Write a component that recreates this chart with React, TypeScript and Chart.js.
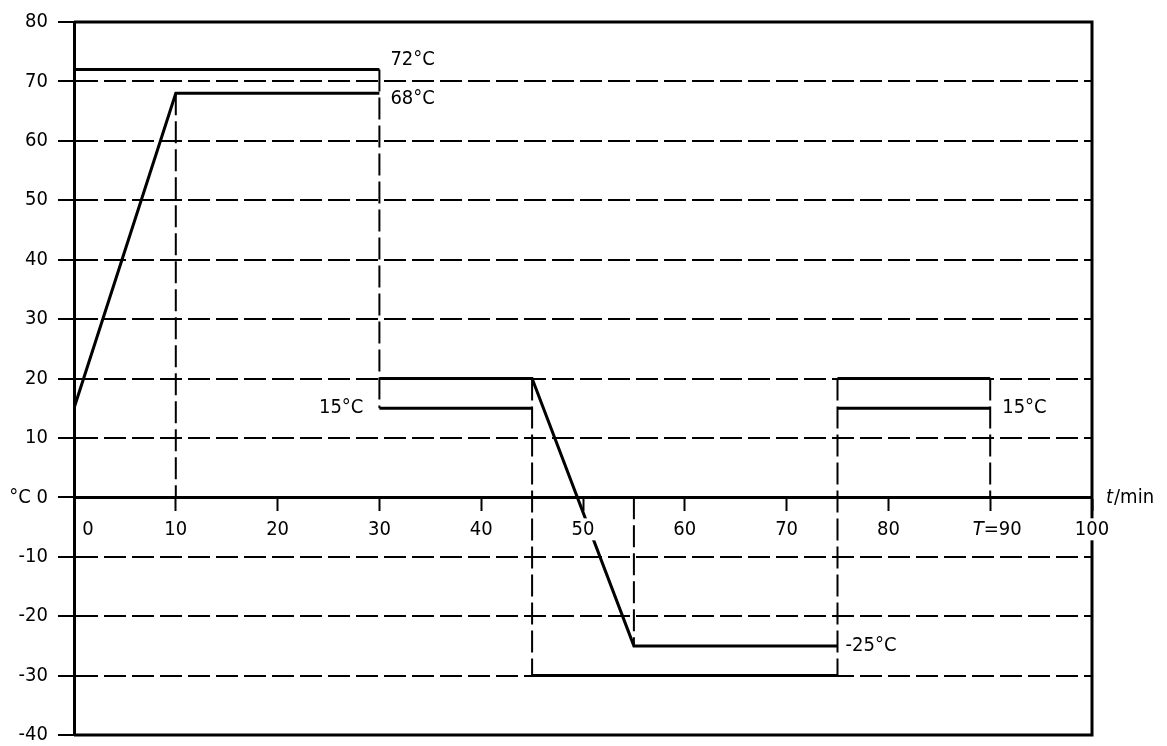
import React, { useEffect, useRef } from "react";
import { Chart, registerables } from "chart.js";

Chart.register(...registerables);

// ---- data (time in minutes, temperature in °C) ----
const heatProfileT = [0, 10, 30];
const heatProfileC = [15, 68, 68];
const hotLimitT = [0, 30];
const hotLimitC = [72, 72];
const coolUpperT = [30, 45, 55, 75];
const coolUpperC = [20, 20, -25, -25];
const midLowerT = [30, 45];
const midLowerC = [15, 15];
const coldLimitT = [45, 75];
const coldLimitC = [-30, -30];
const finalUpperT = [75, 90];
const finalUpperC = [20, 20];
const finalLowerT = [75, 90];
const finalLowerC = [15, 15];

const markerT = [10, 30, 45, 55, 75, 90];
const markerTop = [68, 72, 20, 0, 20, 20];
const markerBottom = [0, 15, -30, -25, -30, 0];

const xTickValues = [0, 10, 20, 30, 40, 50, 60, 70, 80, 90, 100];
const xTickLabels = ["0", "10", "20", "30", "40", "50", "60", "70", "80", "T=90", "100"];
const yMin = -40;
const yMax = 80;
const yStep = 10;

const noteTexts = ["72°C", "68°C", "15°C", "15°C", "-25°C"];
const noteT = [30, 30, 30, 90, 75];
const noteC = [72, 68, 15, 15, -25];

// ---- styles ----
const FONT_FAMILY = "'DejaVu Sans Condensed', 'Liberation Sans Narrow', 'DejaVu Sans', sans-serif";
const FONT_SIZE = 20;
const DASH = [22, 6];
const noteStyle = [
  { dx: 11, dy: -10, align: "left" },
  { dx: 11, dy: 5, align: "left" },
  { dx: -16, dy: 0, align: "right" },
  { dx: 12, dy: 0, align: "left" },
  { dx: 8, dy: 0, align: "left" },
];
const xLabelShift = [14, 0, 0, 0, 0, 0, 0, 0, 0, 7, 0];

const pts = (ts: number[], cs: number[]) => ts.map((t, i) => ({ x: t, y: cs[i] }));

const overlayPlugin = {
  id: "overlay",
  afterDatasetsDraw(chart: any) {
    const { ctx, chartArea, scales } = chart;
    const x = scales.x;
    const y = scales.y;
    ctx.save();
    // frame (top, right, bottom)
    ctx.strokeStyle = "#000";
    ctx.lineWidth = 3;
    ctx.setLineDash([]);
    ctx.beginPath();
    ctx.moveTo(chartArea.left, chartArea.top);
    ctx.lineTo(chartArea.right, chartArea.top);
    ctx.lineTo(chartArea.right, chartArea.bottom);
    ctx.lineTo(chartArea.left, chartArea.bottom);
    ctx.stroke();

    const font = `${FONT_SIZE}px ${FONT_FAMILY}`;
    const italic = `italic ${FONT_SIZE}px ${FONT_FAMILY}`;
    ctx.textBaseline = "middle";
    const y0 = y.getPixelForValue(0);

    // x tick labels with white backdrop
    xTickValues.forEach((v, i) => {
      const label = xTickLabels[i];
      const cx = x.getPixelForValue(v) + xLabelShift[i];
      const cy = y0 + 32;
      let parts: { text: string; font: string }[];
      if (label.startsWith("T=")) {
        parts = [
          { text: "T", font: italic },
          { text: label.slice(1), font },
        ];
      } else {
        parts = [{ text: label, font }];
      }
      let total = 0;
      const widths = parts.map((p) => {
        ctx.font = p.font;
        const w = ctx.measureText(p.text).width;
        total += w;
        return w;
      });
      ctx.fillStyle = "#fff";
      ctx.fillRect(cx - total / 2 - 3, cy - 11, total + 6, 22);
      ctx.fillStyle = "#000";
      ctx.textAlign = "left";
      let sx = cx - total / 2;
      parts.forEach((p, k) => {
        ctx.font = p.font;
        ctx.fillText(p.text, sx, cy);
        sx += widths[k];
      });
    });

    // annotations
    ctx.font = font;
    ctx.fillStyle = "#000";
    noteTexts.forEach((t, i) => {
      const st = noteStyle[i];
      ctx.textAlign = st.align as CanvasTextAlign;
      ctx.fillText(t, x.getPixelForValue(noteT[i]) + st.dx, y.getPixelForValue(noteC[i]) + st.dy);
    });

    // y unit
    ctx.textAlign = "center";
    ctx.fillText("°C", 20, y0);

    // x unit: t/min
    ctx.textAlign = "left";
    ctx.font = italic;
    const tx = chartArea.right + 14;
    ctx.fillText("t", tx, y0);
    const tw = ctx.measureText("t").width;
    ctx.font = font;
    ctx.fillText("/min", tx + tw + 1, y0);
    ctx.restore();
  },
};

export default function App() {
  const ref = useRef<HTMLCanvasElement | null>(null);
  useEffect(() => {
    if (!ref.current) return;
    const solid = (data: any[]) => ({
      data,
      borderColor: "#000",
      borderWidth: 3,
      pointRadius: 0,
      showLine: true,
      fill: false,
      borderJoinStyle: "miter",
      borderCapStyle: "butt",
      tension: 0,
    });
    const markers = markerT.map((t, i) => ({
      data: [
        { x: t, y: markerTop[i] },
        { x: t, y: markerBottom[i] },
      ],
      borderColor: "#000",
      borderWidth: 2,
      borderDash: DASH,
      pointRadius: 0,
      showLine: true,
      fill: false,
    }));
    const datasets: any[] = [
      ...markers,
      solid(pts(hotLimitT, hotLimitC)),
      solid(pts(heatProfileT, heatProfileC)),
      solid(pts(coolUpperT, coolUpperC)),
      solid(pts(midLowerT, midLowerC)),
      solid(pts(coldLimitT, coldLimitC)),
      solid(pts(finalUpperT, finalUpperC)),
      solid(pts(finalLowerT, finalLowerC)),
    ];
    const chart = new Chart(ref.current, {
      type: "scatter",
      data: { datasets },
      plugins: [overlayPlugin],
      options: {
        animation: false,
        responsive: false,
        maintainAspectRatio: false,
        layout: { padding: { left: 0, right: 75, top: 22, bottom: 11 } },
        plugins: { legend: { display: false }, tooltip: { enabled: false } },
        scales: {
          x: {
            type: "linear",
            min: 0,
            max: 100,
            position: { y: 0 } as any,
            afterBuildTicks: (scale: any) => {
              scale.ticks = xTickValues.map((v) => ({ value: v }));
            },
            afterFit: (scale: any) => {
              scale.height = 0;
            },
            ticks: { display: false },
            grid: {
              drawOnChartArea: false,
              drawTicks: true,
              tickLength: 12,
              tickWidth: 2,
              tickColor: "#000",
              color: "#000",
            },
            border: { display: true, color: "#000", width: 3 },
          },
          y: {
            type: "linear",
            min: yMin,
            max: yMax,
            position: "left",
            afterFit: (scale: any) => {
              scale.width = 74;
              scale.paddingTop = 0;
              scale.paddingBottom = 0;
            },
            ticks: {
              stepSize: yStep,
              color: "#000",
              padding: 10,
              font: { family: FONT_FAMILY, size: FONT_SIZE },
              callback: (v: any) => String(v),
            },
            grid: {
              color: "#000",
              lineWidth: 2,
              tickLength: 16,
              tickWidth: 2,
              tickColor: "#000",
              tickBorderDash: [],
            },
            border: { display: true, color: "#000", width: 3, dash: DASH },
          },
        },
      } as any,
    });
    return () => chart.destroy();
  }, []);
  return (
    <div style={{ position: "absolute", left: 0, top: 0, width: 1167, height: 746, background: "#fff" }}>
      <canvas ref={ref} width={1167} height={746} style={{ display: "block", width: 1167, height: 746 }} />
    </div>
  );
}
